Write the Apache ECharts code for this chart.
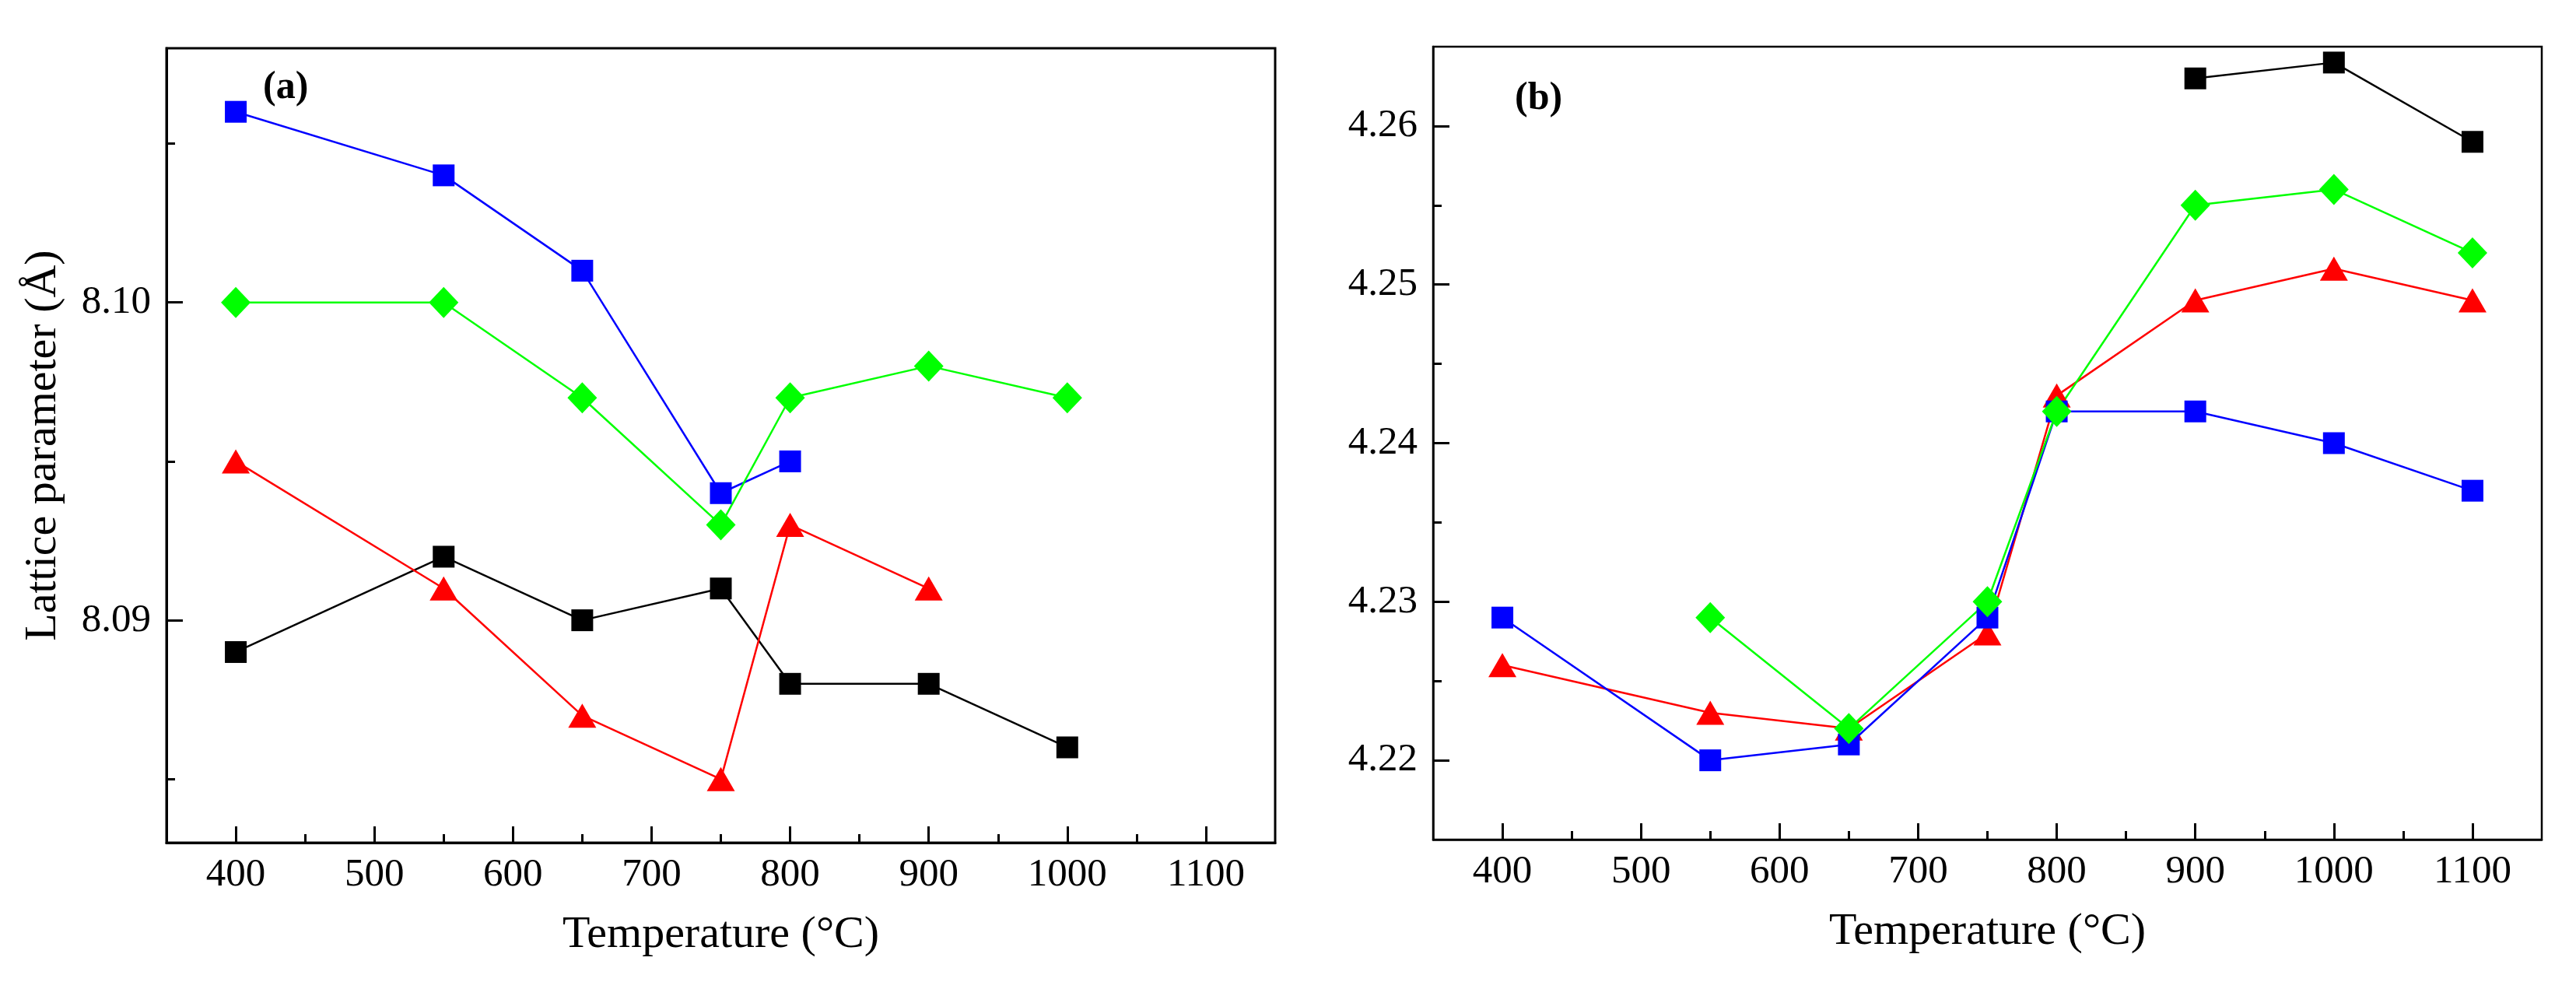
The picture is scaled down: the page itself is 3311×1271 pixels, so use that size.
<!DOCTYPE html>
<html>
<head>
<meta charset="utf-8">
<script src="https://cdn.jsdelivr.net/npm/echarts@6/dist/echarts.min.js"></script>
<style>html,body{margin:0;padding:0;background:#fff}#c{width:3311px;height:1271px}</style>
</head>
<body>
<div id="c"></div>
<script>
// ---- data ----
const temps = [400, 550, 650, 750, 800, 900, 1000, 1100];
// panel (a)
const blackA = [8.089, 8.092, 8.090, 8.091, 8.088, 8.088, 8.086, null];
const redA   = [8.095, 8.091, 8.087, 8.085, 8.093, 8.091, null, null];
const blueA  = [8.106, 8.104, 8.101, 8.094, 8.095, null, null, null];
const greenA = [8.100, 8.100, 8.097, 8.093, 8.097, 8.098, 8.097, null];
// panel (b)
const blackB = [null, null, null, null, null, 4.263, 4.264, 4.259];
const redB   = [4.226, 4.223, 4.222, 4.228, 4.243, 4.249, 4.251, 4.249];
const blueB  = [4.229, 4.220, 4.221, 4.229, 4.242, 4.242, 4.240, 4.237];
const greenB = [null, 4.229, 4.222, 4.230, 4.242, 4.255, 4.256, 4.252];
// ticks
const xMajor = [400, 500, 600, 700, 800, 900, 1000, 1100];
const xMinor = [450, 550, 650, 750, 850, 950, 1050];
const yMajorA = [8.09, 8.10];
const yMinorA = [8.085, 8.095, 8.105];
const yMajorB = [4.22, 4.23, 4.24, 4.25, 4.26];
const yMinorB = [4.225, 4.235, 4.245, 4.255];
const xTitle = 'Temperature (°C)';
const yTitle = 'Lattice parameter (Å)';

// ---- chart ----
const FONT = "'Liberation Serif', 'Times New Roman', serif";
const pairs = v => temps.map((t, i) => v[i] == null ? null : [t, v[i]]).filter(Boolean);

function majorX(grid, lw) {
  return {
    type: 'value', gridIndex: grid, position: 'bottom', min: 350, max: 1150,
    name: xTitle, nameLocation: 'middle', nameGap: 90,
    nameTextStyle: {fontFamily: FONT, fontSize: 58, color: '#000'},
    axisLine: {show: true, lineStyle: {color: '#000', width: lw}},
    axisTick: {show: true, inside: true, length: 21, customValues: xMajor, lineStyle: {color: '#000', width: 3}},
    axisLabel: {show: true, customValues: xMajor, margin: 16, fontFamily: FONT, fontSize: 51, color: '#000',
      formatter: v => String(Math.round(v))},
    splitLine: {show: false}
  };
}
function minorX(grid) {
  return {
    type: 'value', gridIndex: grid, position: 'bottom', min: 350, max: 1150,
    axisLine: {show: false},
    axisTick: {show: true, inside: true, length: 11, customValues: xMinor, lineStyle: {color: '#000', width: 3}},
    axisLabel: {show: false},
    splitLine: {show: false}
  };
}
function majorY(grid, min, max, ticks, lw, name) {
  return {
    type: 'value', gridIndex: grid, position: 'left', min: min, max: max,
    name: name || '', nameLocation: 'middle', nameGap: 129,
    nameTextStyle: {fontFamily: FONT, fontSize: 58, color: '#000'},
    axisLine: {show: true, lineStyle: {color: '#000', width: lw}},
    axisTick: {show: true, inside: true, length: 21, customValues: ticks, lineStyle: {color: '#000', width: 3}},
    axisLabel: {show: true, customValues: ticks, margin: 20, fontFamily: FONT, fontSize: 51, color: '#000',
      formatter: v => Number(v).toFixed(2)},
    splitLine: {show: false}
  };
}
function minorY(grid, min, max, ticks) {
  return {
    type: 'value', gridIndex: grid, position: 'left', min: min, max: max,
    axisLine: {show: false},
    axisTick: {show: true, inside: true, length: 11, customValues: ticks, lineStyle: {color: '#000', width: 3}},
    axisLabel: {show: false},
    splitLine: {show: false}
  };
}
function ser(data, color, symbol, size, grid) {
  return {
    type: 'line', xAxisIndex: grid * 2, yAxisIndex: grid * 2,
    data: pairs(data), symbol: symbol, symbolSize: size,
    lineStyle: {color: color, width: 2.5},
    itemStyle: {color: color},
    showSymbol: true, animation: false, z: 3
  };
}

const chart = echarts.init(document.getElementById('c'), null, {renderer: 'canvas'});
chart.setOption({
  backgroundColor: '#fff',
  animation: false,
  textStyle: {fontFamily: FONT},
  grid: [
    {left: 214, top: 62, width: 1425, height: 1021, show: true, borderColor: '#000', borderWidth: 3, backgroundColor: 'transparent'},
    {left: 1842, top: 60, width: 1425, height: 1019, show: true, borderColor: '#000', borderWidth: 2.5, backgroundColor: 'transparent'}
  ],
  xAxis: [majorX(0, 3), minorX(0), majorX(1, 2.5), minorX(1)],
  yAxis: [
    majorY(0, 8.083, 8.108, yMajorA, 3, yTitle), minorY(0, 8.083, 8.108, yMinorA),
    majorY(1, 4.215, 4.265, yMajorB, 2.5, ''), minorY(1, 4.215, 4.265, yMinorB)
  ],
  graphic: [
    {type: 'text', left: 338, top: 88, style: {text: '(a)', fontFamily: FONT, fontWeight: 'bold', fontSize: 50, fill: '#000'}},
    {type: 'text', left: 1947, top: 102, style: {text: '(b)', fontFamily: FONT, fontWeight: 'bold', fontSize: 50, fill: '#000'}}
  ],
  series: [
    ser(blackA, '#000000', 'rect', 28, 0),
    ser(redA, '#FF0000', 'triangle', [36, 31], 0),
    ser(blueA, '#0000FF', 'rect', 28, 0),
    ser(greenA, '#00FF00', 'diamond', [38, 40], 0),
    ser(blackB, '#000000', 'rect', 28, 1),
    ser(redB, '#FF0000', 'triangle', [36, 31], 1),
    ser(blueB, '#0000FF', 'rect', 28, 1),
    ser(greenB, '#00FF00', 'diamond', [38, 40], 1)
  ]
});
</script>
</body>
</html>
